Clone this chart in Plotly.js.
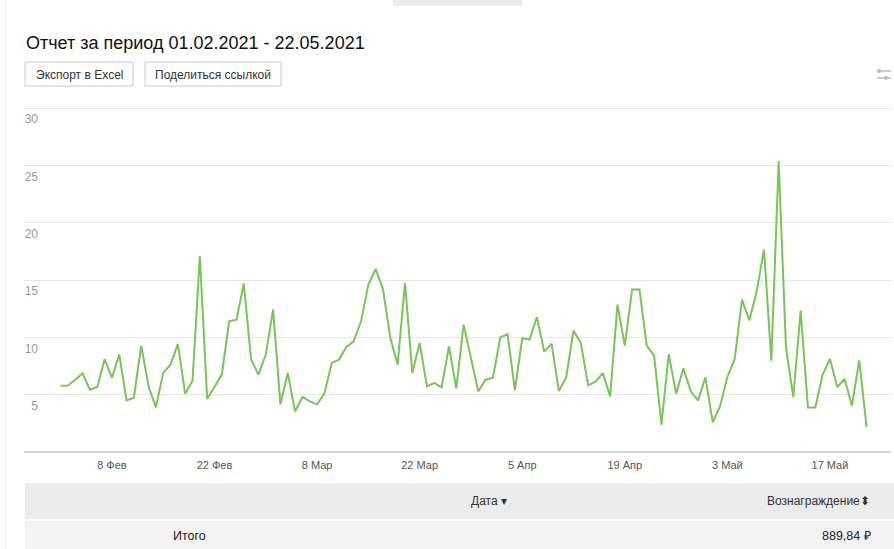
<!DOCTYPE html>
<html>
<head>
<meta charset="utf-8">
<script src="https://cdn.plot.ly/plotly-3.0.1.min.js"></script>
<style>
  html, body { margin: 0; padding: 0; background: #fff; }
  #chart { width: 894px; height: 549px; }
</style>
</head>
<body>
<div id="chart"></div>
<script>
// ---- data ----
const startDate = '2021-02-01';
const values = [
  5.79, 5.80, 6.30, 6.86, 5.44, 5.67, 8.10, 6.46, 8.52, 4.50,
  4.74, 9.28, 5.73, 3.90, 6.90, 7.62, 9.43, 5.09, 6.22, 17.08,
  4.62, 5.64, 6.75, 11.40, 11.55, 14.69, 8.06, 6.75, 8.50, 12.42,
  4.16, 6.90, 3.54, 4.80, 4.42, 4.16, 5.09, 7.77, 8.06, 9.16,
  9.66, 11.40, 14.60, 15.98, 14.17, 9.95, 7.62, 14.75, 6.90, 9.51,
  5.73, 6.02, 5.64, 9.22, 5.55, 11.11, 8.06, 5.29, 6.31, 6.48,
  10.00, 10.27, 5.38, 9.92, 9.80, 11.78, 8.76, 9.45, 5.32, 6.51,
  10.59, 9.51, 5.82, 6.14, 6.89, 4.85, 12.86, 9.28, 14.17, 14.17,
  9.28, 8.41, 2.38, 8.55, 5.09, 7.30, 5.29, 4.50, 6.51, 2.58,
  3.98, 6.54, 8.12, 13.30, 11.49, 14.02, 17.66, 7.97, 25.38, 9.08,
  4.80, 12.34, 3.89, 3.89, 6.75, 8.11, 5.67, 6.37, 4.04, 8.00,
  2.18
];
const xTickVals = ['2021-02-08', '2021-02-22', '2021-03-08', '2021-03-22', '2021-04-05', '2021-04-19', '2021-05-03', '2021-05-17'];
const xTickText = ['8 Фев', '22 Фев', '8 Мар', '22 Мар', '5 Апр', '19 Апр', '3 Май', '17 Май'];
const yTickVals = [5, 10, 15, 20, 25, 30];
const reportTitle = 'Отчет за период 01.02.2021 - 22.05.2021';
const buttonLabels = ['Экспорт в Excel', 'Поделиться ссылкой'];
const tableHeaders = ['Дата ▾', 'Вознаграждение⬍'];
const totalLabel = 'Итого';
const totalValue = '889,84 ₽';

// dates (one per day from start)
const dates = [];
(function () {
  const d0 = new Date(startDate + 'T00:00:00Z');
  for (let i = 0; i < values.length; i++) {
    const d = new Date(d0.getTime() + i * 86400000);
    dates.push(d.toISOString().slice(0, 10));
  }
})();

// ---- layout geometry ----
const W = 894, H = 549;
const ML = 24, MR = 3, MT = 107, MB = 97;
const PW = W - ML - MR, PH = H - MT - MB;
const px = x => (x - ML) / PW;
const py = y => 1 - (y - MT) / PH;

const FONT = 'Arial, "Liberation Sans", sans-serif';
const NARROW = '"Liberation Sans Narrow", "Arial Narrow", Arial, sans-serif';

const shapes = [];
const annotations = [];

// top grey tab
shapes.push({type: 'rect', xref: 'paper', yref: 'paper', x0: px(393), x1: px(522), y0: py(0), y1: py(6),
  fillcolor: '#ebebeb', line: {width: 0}, layer: 'below'});
// left page border
shapes.push({type: 'line', xref: 'paper', yref: 'paper', x0: px(6), x1: px(6), y0: py(0), y1: py(549),
  line: {color: '#eeeeee', width: 1}});

// title
annotations.push({xref: 'paper', yref: 'paper', x: px(24), y: py(43), xanchor: 'left', yanchor: 'middle',
  text: reportTitle, showarrow: false, font: {family: FONT, size: 18, color: '#111'}});

// buttons
const btns = [[25, 133], [145, 281]];
btns.forEach((b, i) => {
  shapes.push({type: 'rect', xref: 'paper', yref: 'paper', x0: px(b[0]), x1: px(b[1]), y0: py(62), y1: py(86),
    fillcolor: '#ffffff', line: {color: '#cccccc', width: 1}});
  annotations.push({xref: 'paper', yref: 'paper', x: px((b[0] + b[1]) / 2), y: py(74.5), xanchor: 'center', yanchor: 'middle',
    text: buttonLabels[i], showarrow: false, font: {family: FONT, size: 12, color: '#333'}});
});

// settings icon
shapes.push({type: 'line', xref: 'paper', yref: 'paper', x0: px(877), x1: px(891), y0: py(71), y1: py(71), line: {color: '#bbbbbb', width: 1.5}});
shapes.push({type: 'line', xref: 'paper', yref: 'paper', x0: px(877), x1: px(891), y0: py(78), y1: py(78), line: {color: '#bbbbbb', width: 1.5}});
shapes.push({type: 'circle', xref: 'paper', yref: 'paper', x0: px(877), x1: px(881), y0: py(69), y1: py(73), fillcolor: '#bbbbbb', line: {width: 0}});
shapes.push({type: 'circle', xref: 'paper', yref: 'paper', x0: px(884), x1: px(888), y0: py(76), y1: py(80), fillcolor: '#bbbbbb', line: {width: 0}});

// table
shapes.push({type: 'rect', xref: 'paper', yref: 'paper', x0: px(25), x1: px(894), y0: py(483), y1: py(519),
  fillcolor: '#ececec', line: {width: 0}});
shapes.push({type: 'rect', xref: 'paper', yref: 'paper', x0: px(25), x1: px(894), y0: py(521), y1: py(549),
  fillcolor: '#f3f3f3', line: {width: 0}});
annotations.push({xref: 'paper', yref: 'paper', x: px(509), y: py(501), xanchor: 'right', yanchor: 'middle',
  text: tableHeaders[0], showarrow: false, font: {family: NARROW, size: 12, color: '#333'}});
annotations.push({xref: 'paper', yref: 'paper', x: px(872), y: py(501), xanchor: 'right', yanchor: 'middle',
  text: tableHeaders[1], showarrow: false, font: {family: NARROW, size: 12, color: '#333'}});
annotations.push({xref: 'paper', yref: 'paper', x: px(171), y: py(536), xanchor: 'left', yanchor: 'middle',
  text: totalLabel, showarrow: false, font: {family: NARROW, size: 12.5, color: '#222'}});
annotations.push({xref: 'paper', yref: 'paper', x: px(873), y: py(536), xanchor: 'right', yanchor: 'middle',
  text: totalValue, showarrow: false, font: {family: NARROW, size: 12.5, color: '#222'}});

const trace = {
  x: dates, y: values, type: 'scatter', mode: 'lines',
  line: {color: '#78c656', width: 2},
  hoverinfo: 'skip'
};

const layout = {
  width: W, height: H,
  margin: {l: ML, r: MR, t: MT, b: MB, pad: 0},
  paper_bgcolor: '#ffffff', plot_bgcolor: '#ffffff',
  showlegend: false,
  xaxis: {
    type: 'date',
    range: ['2021-01-27', '2021-05-25 08:00'],
    tickmode: 'array', tickvals: xTickVals, ticktext: xTickText,
    showgrid: false, zeroline: false, showline: false,
    ticks: '', ticklen: 0,
    ticklabelstandoff: 5,
    tickfont: {family: FONT, size: 11, color: '#555'},
    fixedrange: true
  },
  yaxis: {
    range: [0, 30.1],
    tickmode: 'array', tickvals: yTickVals,
    showgrid: true, gridcolor: '#e6e6e6', gridwidth: 1,
    zeroline: true, zerolinecolor: '#d6d6d6', zerolinewidth: 2,
    showline: false, ticks: '',
    anchor: 'free', position: px(38),
    ticklabelposition: 'outside',
    ticklabelshift: 11,
    ticklabelstandoff: 0,
    tickfont: {family: FONT, size: 12, color: '#999'},
    fixedrange: true
  },
  shapes: shapes,
  annotations: annotations
};

Plotly.newPlot('chart', [trace], layout, {displayModeBar: false, staticPlot: true});
</script>
</body>
</html>
